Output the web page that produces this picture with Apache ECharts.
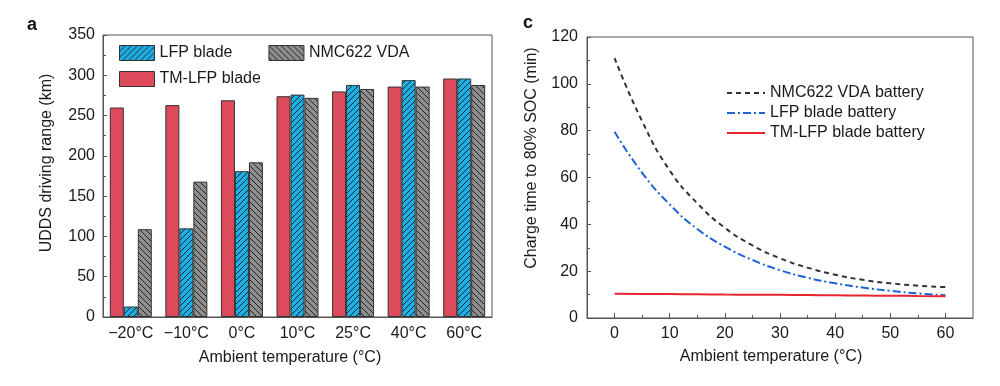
<!DOCTYPE html>
<html>
<head>
<meta charset="utf-8">
<script src="https://cdn.jsdelivr.net/npm/echarts@6/dist/echarts.min.js"></script>
<style>
html,body{margin:0;padding:0;background:#fff;}
#chart{width:1000px;height:386px;}
</style>
</head>
<body>
<div id="chart"></div>
<script>
// ---- Data: panel a (bars) ----
var categories = ['\u221220\u00b0C', '\u221210\u00b0C', '0\u00b0C', '10\u00b0C', '25\u00b0C', '40\u00b0C', '60\u00b0C'];
var tmLfpRange = [260, 263, 269, 274, 280, 286, 296];
var lfpRange   = [13, 110, 181, 276, 288, 294, 296];
var nmcRange   = [109, 168, 192, 272, 283, 286, 288];

// ---- Data: panel c (lines) ----
var tempX      = [0, 5, 10, 15, 20, 25, 30, 35, 40, 45, 50, 55, 60];
var nmcCharge  = [111, 84, 63, 49, 38.5, 31, 25.5, 21.5, 18.5, 16.3, 14.8, 13.8, 13.2];
var lfpCharge  = [79.5, 62, 48.5, 38, 30.5, 24.8, 20.4, 17.2, 14.8, 13, 11.6, 10.5, 9.7];
var tmCharge   = [10.4, 10.3, 10.2, 10.1, 10.0, 9.95, 9.9, 9.8, 9.7, 9.6, 9.5, 9.4, 9.3];
var xTickMajor = [0, 10, 20, 30, 40, 50, 60];
var xTickMinor = [5, 15, 25, 35, 45, 55];

function pairs(xs, ys) { return xs.map(function (x, i) { return [x, ys[i]]; }); }

function hatch(bg, dir) {
  var s = 6;
  var c = document.createElement('canvas');
  c.width = s; c.height = s;
  var g = c.getContext('2d');
  g.fillStyle = bg; g.fillRect(0, 0, s, s);
  g.strokeStyle = '#222'; g.lineWidth = 1;
  g.beginPath();
  if (dir > 0) {
    g.moveTo(-1, s + 1); g.lineTo(s + 1, -1);
    g.moveTo(-1, 1); g.lineTo(1, -1);
    g.moveTo(s - 1, s + 1); g.lineTo(s + 1, s - 1);
  } else {
    g.moveTo(-1, -1); g.lineTo(s + 1, s + 1);
    g.moveTo(s - 1, -1); g.lineTo(s + 1, 1);
    g.moveTo(-1, s - 1); g.lineTo(1, s + 1);
  }
  g.stroke();
  return { image: c, repeat: 'repeat' };
}

var FONT = '"Liberation Sans", Arial, sans-serif';
var TXT = '#1a1a1a';
var AX = '#555';

var chart = echarts.init(document.getElementById('chart'), null, { renderer: 'canvas' });

var red = '#dd4a5c';
var lfpFill = hatch('#1cb0e6', 1);
var nmcFill = hatch('#8e8e8e', -1);

var option = {
  backgroundColor: '#fff',
  animation: false,
  textStyle: { fontFamily: FONT },
  grid: [
    { left: 103, top: 35, width: 389, height: 282, show: true, borderColor: AX, borderWidth: 1, backgroundColor: 'transparent' },
    { left: 587, top: 37, width: 386, height: 281, show: true, borderColor: AX, borderWidth: 1, backgroundColor: 'transparent' }
  ],
  legend: [
    {
      left: 114, top: 40, itemWidth: 35, itemHeight: 15, itemGap: 36,
      icon: 'rect',
      textStyle: { fontFamily: FONT, fontSize: 16, color: TXT, lineHeight: 15 },
      itemStyle: { borderColor: '#333', borderWidth: 1 },
      data: ['LFP blade', 'NMC622 VDA']
    },
    {
      left: 114, top: 66, itemWidth: 35, itemHeight: 15,
      icon: 'rect',
      textStyle: { fontFamily: FONT, fontSize: 16, color: TXT, lineHeight: 15 },
      itemStyle: { borderColor: '#333', borderWidth: 1 },
      data: ['TM-LFP blade']
    },
    {
      left: 721, top: 80, orient: 'vertical', itemWidth: 38, itemHeight: 14, itemGap: 4,
      textStyle: { fontFamily: FONT, fontSize: 16, color: TXT, lineHeight: 16 },
      itemStyle: { opacity: 0 },
      data: ['NMC622 VDA battery', 'LFP blade battery', 'TM-LFP blade battery']
    }
  ],
  xAxis: [
    {
      type: 'category', gridIndex: 0, data: categories,
      axisLine: { lineStyle: { color: AX } },
      axisTick: { show: false },
      axisLabel: { color: TXT, fontSize: 16, fontFamily: FONT, margin: 9, interval: 0 }
    },
    {
      type: 'value', gridIndex: 1, min: -5, max: 65, position: 'bottom',
      splitLine: { show: false },
      axisLine: { onZero: false, lineStyle: { color: AX } },
      axisTick: { inside: true, length: 5, customValues: xTickMajor, lineStyle: { color: AX } },
      axisLabel: { color: TXT, fontSize: 16, fontFamily: FONT, margin: 8, customValues: xTickMajor }
    },
    {
      type: 'value', gridIndex: 1, min: -5, max: 65, position: 'bottom', offset: 0,
      splitLine: { show: false },
      axisLine: { show: false, onZero: false },
      axisTick: { show: true, inside: true, length: 3, customValues: xTickMinor, lineStyle: { color: AX } },
      axisLabel: { show: false, customValues: xTickMinor }
    }
  ],
  yAxis: [
    {
      type: 'value', gridIndex: 0, min: 0, max: 350, interval: 50,
      splitLine: { show: false },
      axisLine: { show: true, onZero: false, lineStyle: { color: AX } },
      axisTick: { show: true, inside: true, length: 4, lineStyle: { color: AX } },
      minorTick: { show: true, splitNumber: 2, length: 3, lineStyle: { color: AX } },
      axisLabel: { color: TXT, fontSize: 16, fontFamily: FONT, margin: 8 }
    },
    {
      type: 'value', gridIndex: 1, min: 0, max: 120, interval: 20,
      splitLine: { show: false },
      axisLine: { show: true, onZero: false, lineStyle: { color: AX } },
      axisTick: { show: true, inside: true, length: 4, lineStyle: { color: AX } },
      minorTick: { show: true, splitNumber: 2, length: 3, lineStyle: { color: AX } },
      axisLabel: { color: TXT, fontSize: 16, fontFamily: FONT, margin: 9 }
    }
  ],
  series: [
    {
      name: 'TM-LFP blade', type: 'bar', xAxisIndex: 0, yAxisIndex: 0,
      data: tmLfpRange, barWidth: 14, barGap: '0%',
      itemStyle: { color: red, borderColor: '#333', borderWidth: 1 }
    },
    {
      name: 'LFP blade', type: 'bar', xAxisIndex: 0, yAxisIndex: 0,
      data: lfpRange, barWidth: 14, barGap: '0%',
      itemStyle: { color: lfpFill, borderColor: '#333', borderWidth: 1 }
    },
    {
      name: 'NMC622 VDA', type: 'bar', xAxisIndex: 0, yAxisIndex: 0,
      data: nmcRange, barWidth: 14, barGap: '0%',
      itemStyle: { color: nmcFill, borderColor: '#333', borderWidth: 1 }
    },
    {
      name: 'NMC622 VDA battery', type: 'line', xAxisIndex: 1, yAxisIndex: 1,
      data: pairs(tempX, nmcCharge), smooth: true, symbol: 'none',
      itemStyle: { color: '#333' },
      lineStyle: { color: '#333', width: 2, type: [5, 4] }
    },
    {
      name: 'LFP blade battery', type: 'line', xAxisIndex: 1, yAxisIndex: 1,
      data: pairs(tempX, lfpCharge), smooth: true, symbol: 'none',
      itemStyle: { color: '#1f62d4' },
      lineStyle: { color: '#1f62d4', width: 2, type: [8, 3, 2, 3] }
    },
    {
      name: 'TM-LFP blade battery', type: 'line', xAxisIndex: 1, yAxisIndex: 1,
      data: pairs(tempX, tmCharge), smooth: true, symbol: 'none',
      itemStyle: { color: '#e8262f' },
      lineStyle: { color: '#e8262f', width: 2 }
    }
  ],
  graphic: [
    { type: 'text', x: 27, y: 16, style: { text: 'a', font: 'bold 18px ' + FONT, fill: '#111' } },
    { type: 'text', x: 523, y: 14, style: { text: 'c', font: 'bold 18px ' + FONT, fill: '#111' } },
    { type: 'text', x: 47, y: 163, rotation: Math.PI / 2,
      style: { text: 'UDDS driving range (km)', font: '16px ' + FONT, fill: TXT, textAlign: 'center', textVerticalAlign: 'middle' } },
    { type: 'text', x: 532, y: 158, rotation: Math.PI / 2,
      style: { text: 'Charge time to 80% SOC (min)', font: '16px ' + FONT, fill: TXT, textAlign: 'center', textVerticalAlign: 'middle' } },
    { type: 'text', x: 290, y: 358,
      style: { text: 'Ambient temperature (\u00b0C)', font: '16px ' + FONT, fill: TXT, textAlign: 'center', textVerticalAlign: 'middle' } },
    { type: 'text', x: 771, y: 357,
      style: { text: 'Ambient temperature (\u00b0C)', font: '16px ' + FONT, fill: TXT, textAlign: 'center', textVerticalAlign: 'middle' } }
  ]
};

chart.setOption(option);
</script>
</body>
</html>
